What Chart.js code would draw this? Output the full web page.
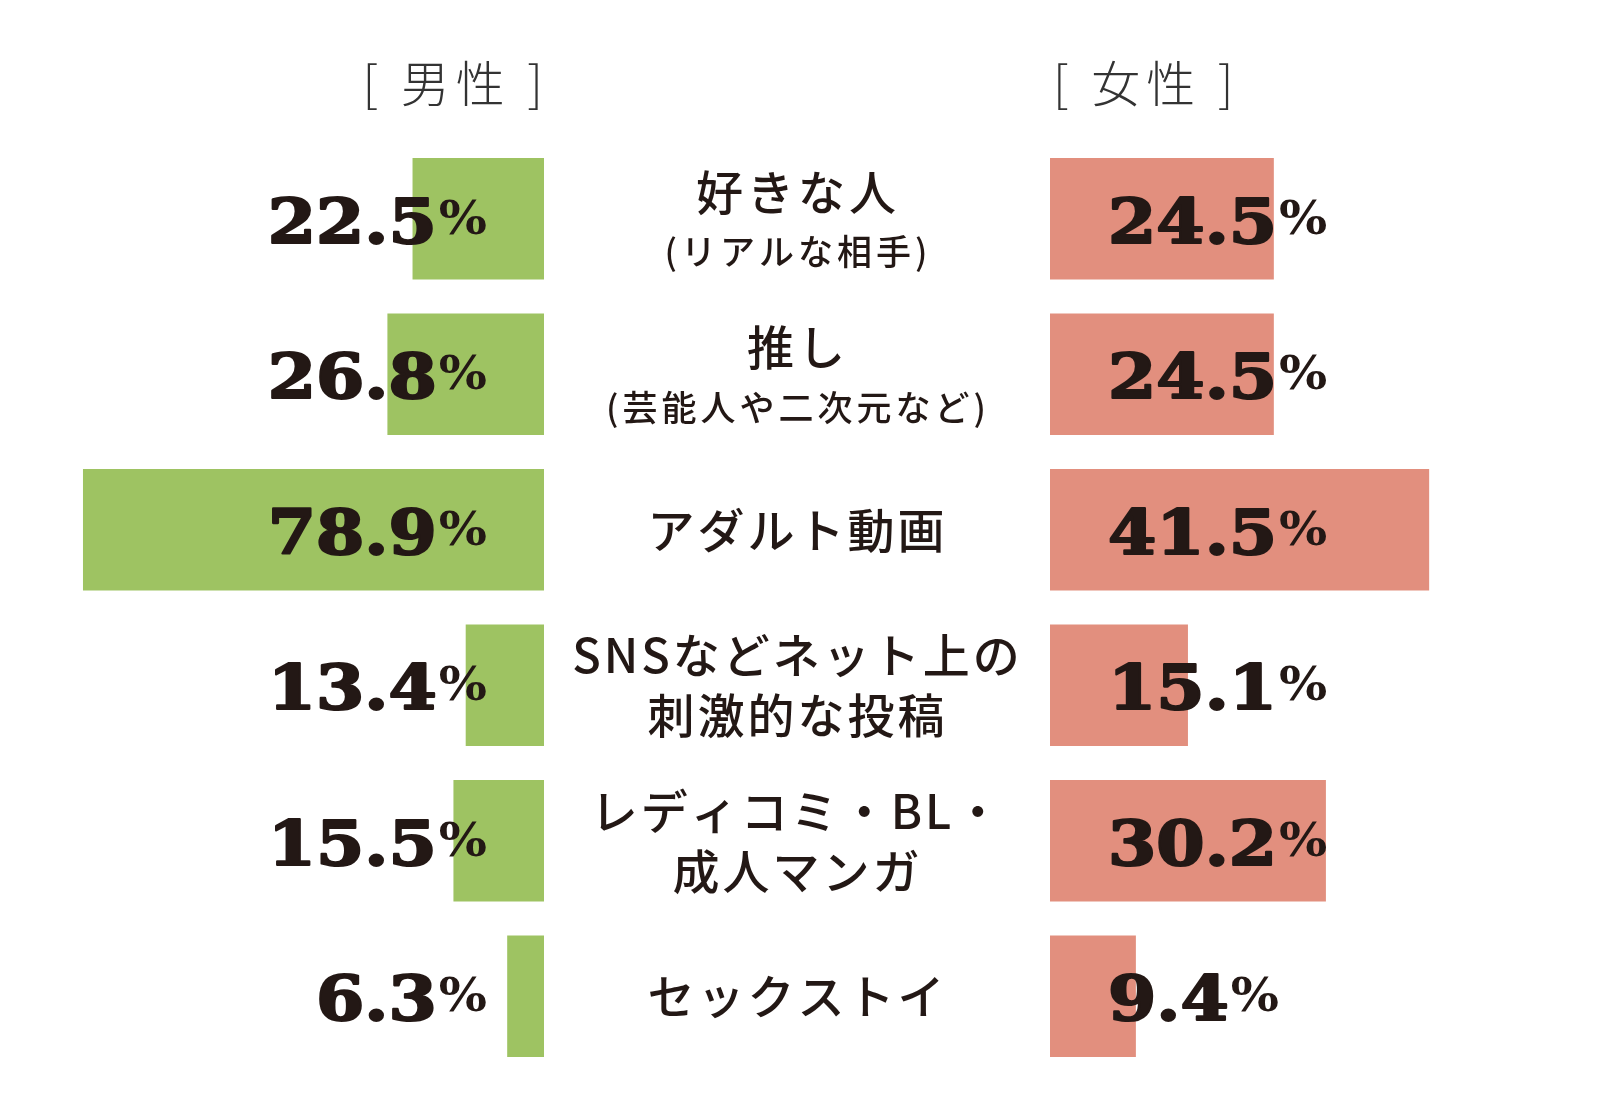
<!DOCTYPE html>
<html>
<head>
<meta charset="utf-8">
<script src="https://cdn.jsdelivr.net/npm/chart.js@4.4.1/dist/chart.umd.min.js"></script>
<style>
  html, body { margin: 0; padding: 0; background: #fff; }
  #wrap { position: relative; width: 1600px; height: 1095px; overflow: hidden; }
  #male { position: absolute; left: 0; top: 0; width: 544px; height: 1095px; }
  #female { position: absolute; left: 544px; top: 0; width: 1056px; height: 1095px; }
</style>
</head>
<body>
<div id="wrap">
  <div id="male"><canvas id="maleChart"></canvas></div>
  <div id="female"><canvas id="femaleChart"></canvas></div>
</div>
<script>
const categories = ['好きな人', '推し', 'アダルト動画', 'SNSなどネット上の\n刺激的な投稿', 'レディコミ・BL・\n成人マンガ', 'セックストイ'];
const subLabels = ['(リアルな相手)', '(芸能人や二次元など)', '', '', '', ''];
const maleValues = [22.5, 26.8, 78.9, 13.4, 15.5, 6.3];
const femaleValues = [24.5, 24.5, 41.5, 15.1, 30.2, 9.4];
const maleTitle = '[ 男性 ]';
const femaleTitle = '[ 女性 ]';

const ink = '#231815';
const jpFont = '"Noto Sans CJK JP", "Noto Sans", sans-serif';
const numFont = '"DejaVu Serif", "Liberation Serif", serif';

// text with tracking, anchored on its visible width
function spacedText(ctx, text, x, y, spacing, align) {
  ctx.letterSpacing = spacing + 'px';
  const w = ctx.measureText(text).width - spacing;
  let left = x;
  if (align === 'center') left = x - w / 2;
  if (align === 'right') left = x - w;
  ctx.textAlign = 'left';
  ctx.fillText(text, left, y);
  ctx.letterSpacing = '0px';
}

function headerPlugin(text, side) {
  return {
    id: 'header',
    afterDraw(chart) {
      const ctx = chart.ctx;
      const zero = chart.scales.x.getPixelForValue(0);
      ctx.save();
      ctx.fillStyle = '#333';
      ctx.font = '300 49px ' + jpFont;
      ctx.textBaseline = 'middle';
      if (side === 'left') spacedText(ctx, text, zero - 1, 83, 6, 'right');
      else spacedText(ctx, text, zero + 3, 83, 6, 'left');
      ctx.restore();
    }
  };
}

function valuePlugin(side) {
  const sx = 1.12;
  const px = 1.08;
  return {
    id: 'values',
    afterDatasetsDraw(chart) {
      const ctx = chart.ctx;
      const zero = chart.scales.x.getPixelForValue(0);
      const values = chart.data.datasets[0].data;
      ctx.save();
      ctx.fillStyle = ink;
      ctx.strokeStyle = ink;
      ctx.lineJoin = 'round';
      ctx.textBaseline = 'alphabetic';
      ctx.textAlign = 'left';
      chart.getDatasetMeta(0).data.forEach((bar, i) => {
        const num = values[i].toFixed(1);
        ctx.font = 'bold 47px ' + numFont;
        const pw = ctx.measureText('%').width * px;
        ctx.font = 'bold 62px ' + numFont;
        const nw = ctx.measureText(num).width * sx;
        const x = side === 'left' ? zero - 57 - pw - nw - 2 : zero + 58;
        ctx.save();
        ctx.translate(x, bar.y + 24);
        ctx.scale(sx, 1);
        ctx.lineWidth = 2.2;
        ctx.fillText(num, 0, 0);
        ctx.strokeText(num, 0, 0);
        ctx.restore();
        ctx.save();
        ctx.font = 'bold 47px ' + numFont;
        ctx.translate(x + nw + 2, bar.y + 15);
        ctx.scale(px, 1);
        ctx.fillText('%', 0, 0);
        ctx.restore();
      });
      ctx.restore();
    }
  };
}

const centerLabels = {
  id: 'centerLabels',
  afterDraw(chart) {
    const ctx = chart.ctx;
    const cx = chart.chartArea.left - 254;
    const yScale = chart.scales.y;
    ctx.save();
    ctx.fillStyle = ink;
    ctx.textBaseline = 'middle';
    categories.forEach((label, i) => {
      const cy = yScale.getPixelForValue(i);
      const lines = label.split('\n');
      ctx.font = '500 47px ' + jpFont;
      if (subLabels[i]) {
        spacedText(ctx, lines[0], cx, cy - 27, 4, 'center');
        ctx.font = '500 35px ' + jpFont;
        spacedText(ctx, subLabels[i], cx, cy + 33, 4, 'center');
      } else {
        lines.forEach((t, j) => {
          spacedText(ctx, t, cx, cy + (j - (lines.length - 1) / 2) * 60, 3, 'center');
        });
      }
    });
    ctx.restore();
  }
};

function baseOptions(pad, xScale) {
  return {
    indexAxis: 'y',
    responsive: true,
    maintainAspectRatio: false,
    animation: false,
    layout: { padding: pad },
    scales: {
      x: Object.assign({ display: false, min: 0 }, xScale),
      y: { display: false }
    },
    plugins: {
      legend: { display: false },
      tooltip: { enabled: false },
      title: { display: false }
    }
  };
}

new Chart(document.getElementById('maleChart'), {
  type: 'bar',
  data: {
    labels: categories,
    datasets: [{
      label: '男性',
      data: maleValues,
      backgroundColor: '#9ec362',
      borderWidth: 0,
      barPercentage: 0.78,
      categoryPercentage: 1
    }]
  },
  options: baseOptions({ top: 141, bottom: 21, left: 0, right: 0 }, { reverse: true, max: 93.1 }),
  plugins: [headerPlugin(maleTitle, 'left'), valuePlugin('left')]
});

new Chart(document.getElementById('femaleChart'), {
  type: 'bar',
  data: {
    labels: categories,
    datasets: [{
      label: '女性',
      data: femaleValues,
      backgroundColor: '#e28f7e',
      borderWidth: 0,
      barPercentage: 0.78,
      categoryPercentage: 1
    }]
  },
  options: baseOptions({ top: 141, bottom: 21, left: 506, right: 0 }, { max: 60.2 }),
  plugins: [headerPlugin(femaleTitle, 'right'), valuePlugin('right'), centerLabels]
});
</script>
</body>
</html>
